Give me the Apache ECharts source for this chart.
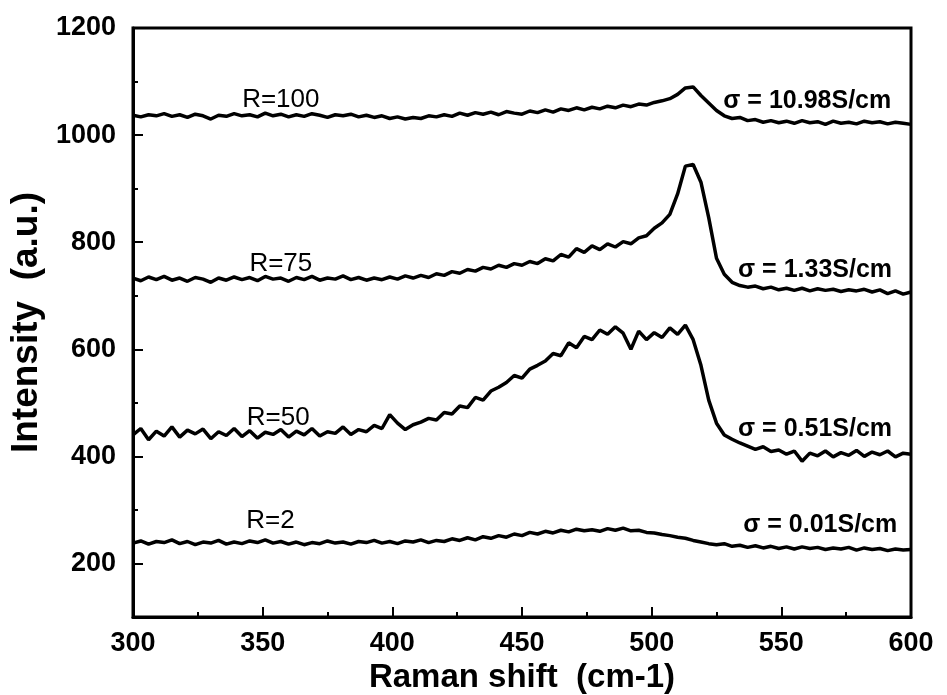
<!DOCTYPE html>
<html>
<head>
<meta charset="utf-8">
<script src="https://cdn.jsdelivr.net/npm/echarts@6/dist/echarts.min.js"></script>
<style>html,body{margin:0;padding:0;background:#fff}#c{width:947px;height:695px}</style>
</head>
<body>
<div id="c"></div>
<script>
// Raman shift (cm-1)
var ramanShift = [300,303,306,309,312,315,318,321,324,327,330,333,336,339,342,345,348,351,354,357,360,363,366,369,372,375,378,381,384,387,390,393,396,399,402,405,408,411,414,417,420,423,426,429,432,435,438,441,444,447,450,453,456,459,462,465,468,471,474,477,480,483,486,489,492,495,498,501,504,507,510,513,516,519,522,525,528,531,534,537,540,543,546,549,552,555,558,561,564,567,570,573,576,579,582,585,588,591,594,597,600];

var intensityR100 = [1037,1034,1038,1036,1040,1035,1038,1033,1039,1036,1030,1037,1035,1040,1036,1038,1034,1041,1036,1039,1034,1038,1035,1040,1037,1033,1038,1036,1039,1034,1037,1033,1036,1031,1034,1030,1033,1031,1036,1034,1038,1035,1041,1037,1042,1039,1043,1038,1044,1041,1039,1045,1042,1047,1043,1049,1046,1051,1047,1052,1049,1054,1051,1056,1053,1058,1056,1061,1064,1068,1076,1088,1090,1074,1060,1046,1036,1031,1033,1027,1029,1024,1027,1023,1026,1022,1027,1023,1025,1020,1026,1022,1024,1021,1026,1023,1025,1021,1024,1022,1020];

var intensityR75 = [733,728,735,730,736,729,733,727,734,731,725,733,729,735,730,734,728,736,731,733,727,734,730,736,729,733,731,737,730,734,729,733,730,735,731,737,733,738,734,741,738,745,742,749,746,753,750,757,753,760,757,764,760,769,765,777,772,788,781,793,786,797,791,801,797,808,812,826,836,852,890,942,945,912,846,770,740,725,719,716,718,713,716,711,714,710,714,709,713,710,712,708,711,709,712,707,711,704,709,703,707];

var intensityR50 = [440,452,431,447,438,455,436,449,442,451,433,446,439,452,437,448,434,445,441,450,436,447,440,452,438,446,443,455,441,450,446,458,452,478,462,450,459,464,471,468,482,479,494,491,510,505,522,529,538,551,546,563,570,578,592,588,612,603,624,618,636,628,642,630,600,634,618,631,622,640,628,645,618,570,505,462,440,432,425,419,413,418,409,412,404,410,391,406,401,410,399,407,402,411,400,408,403,410,399,406,404];

var intensityR2 = [238,242,236,241,239,244,237,241,235,240,238,243,236,240,237,242,239,244,238,241,236,240,235,239,237,242,238,240,236,241,239,243,238,241,237,242,240,244,239,243,241,246,243,248,244,250,247,252,249,255,252,258,255,260,257,262,259,264,261,263,260,265,262,266,261,262,258,257,254,252,249,247,243,240,237,235,237,232,234,230,233,229,232,228,231,227,231,228,230,226,229,227,230,225,229,226,228,224,227,225,226];

var seriesNames = ['R=100','R=75','R=50','R=2'];
var sigmaLabels = ['\u03c3 = 10.98S/cm','\u03c3 = 1.33S/cm','\u03c3 = 0.51S/cm','\u03c3 = 0.01S/cm'];
var xTicks = [300,350,400,450,500,550,600];
var yTicks = [200,400,600,800,1000,1200];
var yMinorTicks = [300,500,700,900,1100];

var FONT = "'Liberation Sans', Arial, sans-serif";

function pairs(ys){ return ramanShift.map(function(x,i){ return [x, ys[i]]; }); }

// label anchors in data coordinates [x, y]
var nameAnchors = [[357,1066],[357,760],[356,472],[353,280]];
var sigmaAnchors = [[560,1064],[563,747],[563,450],[565,272]];

var allSeries = [intensityR100, intensityR75, intensityR50, intensityR2];

var series = allSeries.map(function(ys, k){
  return {
    type: 'line',
    name: seriesNames[k],
    data: pairs(ys),
    showSymbol: false,
    symbol: 'none',
    lineStyle: {color: '#000', width: 3.5},
    silent: true,
    markPoint: {
      symbol: 'circle',
      symbolSize: 0,
      silent: true,
      data: [
        {coord: nameAnchors[k], label: {show: true, position: 'inside', formatter: seriesNames[k], color: '#000', fontFamily: FONT, fontSize: 26, fontWeight: 'normal'}},
        {coord: sigmaAnchors[k], label: {show: true, position: 'inside', formatter: sigmaLabels[k], color: '#000', fontFamily: FONT, fontSize: 25, fontWeight: 'bold'}}
      ]
    }
  };
});

function plain(v){ return String(v); }

var chart = echarts.init(document.getElementById('c'), null, {renderer: 'canvas'});
chart.setOption({
  animation: false,
  backgroundColor: '#fff',
  grid: {left: 133, right: 36, top: 28, bottom: 78, containLabel: false, outerBoundsMode: 'none', show: true, borderColor: '#000', borderWidth: 3, backgroundColor: 'transparent'},
  xAxis: {
    type: 'value', min: 300, max: 600, interval: 50,
    name: 'Raman shift  (cm-1)', nameLocation: 'middle', nameGap: 43,
    nameTextStyle: {color: '#000', fontFamily: FONT, fontSize: 33, fontWeight: 'bold'},
    axisLine: {show: true, lineStyle: {color: '#000', width: 3}},
    axisTick: {show: true, inside: true, length: 10, lineStyle: {color: '#000', width: 2}},
    minorTick: {show: true, splitNumber: 2, length: 5, lineStyle: {color: '#000', width: 2}},
    axisLabel: {color: '#000', fontFamily: FONT, fontSize: 27, fontWeight: 'bold', margin: 13, customValues: xTicks, formatter: plain},
    splitLine: {show: false}
  },
  yAxis: [{
    type: 'value', min: 100, max: 1200,
    name: 'Intensity  (a.u.)', nameLocation: 'middle', nameGap: 55,
    nameTextStyle: {color: '#000', fontFamily: FONT, fontSize: 37, fontWeight: 'bold'},
    axisLine: {show: true, lineStyle: {color: '#000', width: 3}},
    axisTick: {show: true, inside: true, length: 10, lineStyle: {color: '#000', width: 2}, customValues: yTicks},
    axisLabel: {color: '#000', fontFamily: FONT, fontSize: 27, fontWeight: 'bold', margin: 17, customValues: yTicks, formatter: plain},
    splitLine: {show: false}
  }, {
    type: 'value', min: 100, max: 1200, position: 'left',
    axisLine: {show: false},
    axisTick: {show: true, inside: true, length: 5, lineStyle: {color: '#000', width: 2}, customValues: yMinorTicks},
    axisLabel: {show: false, customValues: yMinorTicks},
    splitLine: {show: false}
  }],
  series: series
});
</script>
</body>
</html>
